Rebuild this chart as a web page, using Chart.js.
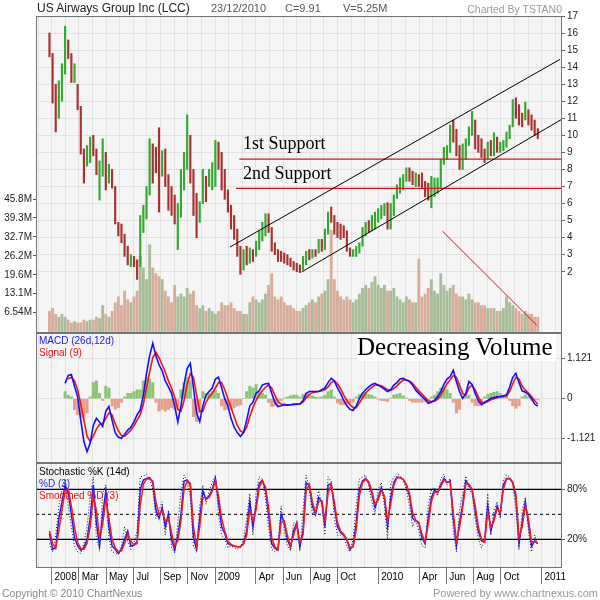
<!DOCTYPE html>
<html>
<head>
<meta charset="UTF-8">
<script src="https://cdn.jsdelivr.net/npm/chart.js"></script>
<title>US Airways Group Inc (LCC)</title>
<style>
  body { margin: 0; background: #fff; font-family: "Liberation Sans", Arial, Helvetica, sans-serif; }
  #wrap { position: relative; width: 600px; height: 600px; overflow: hidden; }
  canvas { position: absolute; left: 0; }
  .t { position: absolute; white-space: nowrap; line-height: 1; }
  .serif { font-family: "Liberation Serif", "Times New Roman", serif; color: #000; }
</style>
</head>
<body>
<div id="wrap">
  <canvas id="price" width="600" height="333" style="top:8px"></canvas>
  <canvas id="macd" width="600" height="146" style="top:325px"></canvas>
  <canvas id="stoch" width="600" height="137" style="top:455px"></canvas>

  <div class="t" style="left:37px;top:2px;font-size:12px;color:#222">US Airways Group Inc (LCC)</div>
  <div class="t" style="left:211px;top:3px;font-size:11px;color:#555">23/12/2010</div>
  <div class="t" style="left:285px;top:3px;font-size:11px;color:#555">C=9.91</div>
  <div class="t" style="left:343px;top:3px;font-size:11px;color:#555">V=5.25M</div>
  <div class="t" style="right:38px;top:3.5px;font-size:10.5px;color:#999">Charted By TSTAN0</div>

  <div class="t serif" style="left:243px;top:134px;font-size:18px">1st Support</div>
  <div class="t serif" style="left:243px;top:163.5px;font-size:18px">2nd Support</div>

  <div style="position:absolute;left:357px;top:334px;width:199px;height:27px;background:#fff"></div>
  <div class="t serif" style="left:357px;top:334px;font-size:25px">Decreasing Volume</div>

  <div class="t" style="left:39px;top:336px;font-size:10px;color:#2020ee">MACD (26d,12d)</div>
  <div class="t" style="left:39px;top:347.8px;font-size:10px;color:#ee1111">Signal (9)</div>

  <div class="t" style="left:39px;top:467.4px;font-size:10px;color:#000">Stochastic %K (14d)</div>
  <div class="t" style="left:39px;top:479px;font-size:10px;color:#2020ee">%D (3)</div>
  <div class="t" style="left:39px;top:490.6px;font-size:10px;color:#ee1111">Smoothed %D (3)</div>

  <div class="t" style="left:2px;top:588px;font-size:10.5px;color:#888">Copyright © 2010 ChartNexus</div>
  <div class="t" style="right:2px;top:587.5px;font-size:11px;color:#999">Powered by www.chartnexus.com</div>
</div>
<script>
// weekly bars, first week ending 27/12/2007, last 23/12/2010
const lows = [
  14.6,11.9,10.2,11.0,12.0,13.6,14.5,13.1,13.1,11.5,
  8.9,7.2,8.2,8.4,8.8,7.7,6.2,7.6,6.8,7.2,
  6.9,4.8,4.1,3.7,2.9,2.4,2.3,2.3,1.55,2.3,
  4.3,5.1,6.5,7.2,7.8,5.5,7.6,7.0,5.6,5.3,
  4.8,3.3,5.2,6.8,8.0,7.2,5.3,4.0,4.9,6.0,
  6.1,7.0,6.8,7.0,8.0,6.8,6.25,5.5,4.5,3.9,
  2.9,1.85,2.1,2.4,2.5,2.6,2.9,3.3,3.8,4.1,
  4.3,3.2,3.0,2.6,2.6,2.5,2.4,2.3,2.1,2.0,
  1.95,2.1,2.4,2.7,2.8,2.9,3.1,3.2,3.3,4.2,
  4.9,4.2,4.0,3.9,4.0,3.2,2.9,2.9,2.9,3.1,
  3.5,4.1,4.3,4.4,4.5,4.9,5.1,5.3,4.5,4.5,
  5.3,6.3,6.6,6.8,7.3,7.3,7.1,7.0,7.0,6.9,
  6.4,6.2,5.75,6.4,6.6,6.9,8.3,8.6,9.0,9.6,
  8.8,8.0,8.0,8.6,9.4,10.0,9.2,9.0,8.7,8.4,
  8.6,8.8,8.8,9.0,9.0,9.1,9.3,9.8,10.5,11.0,
  10.6,10.5,10.9,10.6,10.3,10.0,9.8
];
const highs = [
  16.0,14.8,13.0,13.2,14.2,16.4,15.6,14.8,14.2,13.0,
  11.7,9.2,9.4,9.9,10.0,9.2,8.5,9.8,9.0,8.3,
  8.0,7.0,4.9,4.8,4.2,3.5,3.0,2.9,2.7,5.3,
  5.9,7.0,9.8,9.5,9.3,10.45,9.1,9.2,7.7,7.0,
  6.5,6.0,8.0,9.0,11.2,10.0,8.0,6.6,6.1,8.0,
  7.6,8.0,8.4,9.7,9.6,9.0,8.0,6.8,5.9,5.3,
  4.5,3.5,3.3,3.5,3.4,3.3,3.8,4.4,4.9,5.4,
  5.4,4.6,3.7,3.3,3.2,3.1,3.0,2.8,2.6,2.5,
  2.4,2.9,3.2,3.3,3.3,3.3,3.9,3.9,4.5,5.5,
  5.8,5.3,4.9,4.8,4.7,4.4,3.4,3.3,3.5,3.7,
  4.6,4.9,5.0,5.3,5.5,5.7,5.9,6.0,6.05,6.0,
  6.5,7.1,7.5,7.7,8.1,8.1,7.9,7.8,7.7,7.8,
  7.3,7.2,7.6,7.5,7.5,8.6,9.3,9.4,10.6,10.9,
  10.35,9.4,9.5,9.8,10.5,11.4,10.9,10.0,9.8,9.2,
  9.6,9.7,10.15,9.9,9.6,9.7,10.2,10.6,12.1,12.2,
  11.8,11.3,11.95,11.5,11.2,10.9,10.4
];
const closes = [
  15.1,12.3,11.5,12.6,13.8,15.4,14.9,13.6,13.7,11.8,
  9.3,8.6,8.7,9.6,9.4,7.9,8.3,8.9,7.3,7.9,
  7.1,4.9,4.6,4.0,3.2,2.6,2.6,2.5,2.2,4.9,
  5.5,6.8,8.8,8.3,8.0,7.5,8.6,7.6,6.6,5.8,
  5.0,5.5,7.6,8.3,9.5,7.6,5.8,5.2,5.8,7.7,
  6.6,7.6,7.8,9.3,8.6,7.0,6.6,5.7,4.8,4.2,
  3.2,2.3,2.9,2.8,3.1,2.9,3.5,4.2,4.6,4.8,
  4.7,3.6,3.3,2.9,2.8,2.7,2.6,2.5,2.3,2.2,
  2.1,2.7,3.0,2.9,3.1,3.0,3.6,3.4,4.3,5.3,
  5.2,4.6,4.5,4.4,4.3,3.4,3.1,3.1,3.2,3.5,
  4.4,4.6,4.5,5.1,5.2,5.5,5.7,5.8,5.0,5.8,
  6.3,6.9,7.0,7.5,7.9,7.6,7.4,7.5,7.3,7.2,
  6.6,6.4,7.0,7.2,7.3,8.4,9.0,9.3,10.4,10.0,
  9.0,8.5,9.2,9.6,10.3,10.5,9.5,9.4,9.0,8.8,
  9.3,9.1,9.6,9.3,9.3,9.4,10.0,10.5,11.8,11.5,
  10.9,10.8,11.6,10.9,10.6,10.2,9.91
];
// average daily volume, millions
const volumes = [
  7,8,6,5,6,5,4,3,3.5,3,
  3,4,3.5,4,4,5,4.5,9,6,5,
  7,10,12,9,14,11,10,12,14,26,
  22,18,30,22,20,19,18,14,12,10,
  16,12,13,12,15,13,14,9,8,9,
  7,8,7,6,7,10,9,9,10,8,
  7,7,6,6,10,12,11,10,11,13,
  16,20,12,11,12,10,9,9,8,7,
  7,8,9,10,11,10,12,13,14,18,
  35,18,14,12,11,12,11,10,11,13,
  15,16,15,17,19,16,15,16,14,14,
  15,12,11,10,12,11,10,10,25,12,
  13,15,18,14,13,20,16,14,15,16,
  13,12,12,11,13,11,10,10,9,9,
  8,8,8,7,7,8,12,10,9,8,
  7,6,7,6,6,5,5
];
const macdLine = [
  null,null,null,null,null,
  0.43,0.65,0.68,0.35,0.06,-0.6,-1.2,-1.48,-1.25,-0.75,
  -0.55,-0.65,-0.78,-0.35,-0.22,-0.6,-0.95,-1.08,-1.11,-1.0,
  -0.88,-0.8,-0.65,-0.45,-0.32,0.1,0.7,1.2,1.55,1.2,
  0.95,0.78,0.5,0.33,0.15,-0.2,-0.65,-0.2,0.4,0.85,
  0.99,0.3,-0.4,-0.64,-0.2,0.1,0.2,0.3,0.55,0.6,
  0.3,0.0,-0.2,-0.55,-0.8,-0.95,-1.06,-0.95,-0.6,-0.2,
  -0.1,0.15,0.22,0.38,0.42,0.43,0.15,-0.1,-0.22,-0.2,
  -0.17,-0.18,-0.17,-0.16,-0.15,-0.15,-0.05,0.15,0.2,0.2,
  0.2,0.2,0.25,0.3,0.45,0.57,0.5,0.3,0.15,-0.05,
  -0.2,-0.3,-0.33,-0.2,0.0,0.15,0.25,0.33,0.4,0.43,
  0.38,0.33,0.27,0.2,0.25,0.38,0.45,0.55,0.57,0.52,
  0.48,0.38,0.24,0.15,0.06,-0.02,-0.13,-0.1,-0.04,0.05,
  0.2,0.4,0.55,0.62,0.8,0.48,0.2,0.01,0.15,0.48,
  0.4,0.15,-0.05,-0.17,-0.1,-0.05,0.01,0.03,0.05,0.06,
  0.08,0.1,0.33,0.6,0.71,0.45,0.22,0.18,0.12,0.0,
  -0.15,-0.21
];
const signalLine = [
  null,null,null,null,null,null,
  0.55,0.6,0.5,0.25,-0.15,-0.6,-1.05,-1.2,-1.05,-0.85,
  -0.72,-0.7,-0.55,-0.4,-0.45,-0.7,-0.9,-1.03,-1.05,-0.97,
  -0.88,-0.76,-0.6,-0.45,-0.15,0.3,0.75,1.15,1.3,1.15,
  0.95,0.75,0.5,0.3,0.05,-0.3,-0.35,-0.05,0.4,0.7,
  0.6,0.1,-0.35,-0.35,-0.1,0.05,0.15,0.3,0.45,0.45,
  0.25,0.0,-0.25,-0.5,-0.75,-0.9,-0.95,-0.8,-0.5,-0.25,
  -0.05,0.1,0.22,0.32,0.38,0.3,0.1,-0.08,-0.15,-0.16,
  -0.17,-0.17,-0.16,-0.16,-0.15,-0.1,0.02,0.12,0.17,0.19,
  0.2,0.22,0.25,0.33,0.45,0.5,0.42,0.28,0.1,-0.05,
  -0.17,-0.25,-0.25,-0.12,0.02,0.15,0.25,0.32,0.38,0.38,
  0.36,0.31,0.25,0.23,0.28,0.36,0.45,0.52,0.53,0.5,
  0.43,0.32,0.22,0.13,0.04,-0.06,-0.08,-0.07,-0.02,0.1,
  0.25,0.42,0.53,0.65,0.6,0.38,0.15,0.1,0.3,0.38,
  0.25,0.05,-0.1,-0.12,-0.08,-0.03,0.0,0.03,0.05,0.06,
  0.08,0.2,0.42,0.6,0.55,0.35,0.24,0.16,0.06,-0.06,
  -0.15
];
const macdHist = [
  null,null,null,null,null,
  0.2,0.1,0.05,-0.3,-0.45,-0.5,-0.55,-0.4,0.05,0.45,
  0.5,0.15,-0.05,0.35,0.3,-0.2,-0.3,-0.25,-0.1,0.05,
  0.15,0.15,0.2,0.25,0.25,0.5,0.6,0.55,0.45,-0.1,
  -0.35,-0.3,-0.35,-0.3,-0.25,-0.3,-0.3,0.25,0.45,0.6,
  0.5,-0.5,-0.64,-0.4,0.2,0.15,0.15,0.2,0.25,0.15,
  -0.2,-0.32,-0.3,-0.3,-0.25,-0.2,-0.17,0.0,0.2,0.35,
  0.3,0.4,0.2,0.15,0.1,-0.1,-0.22,-0.2,-0.15,-0.05,
  0.02,0.05,0.08,0.1,0.1,0.05,0.12,0.15,0.1,0.08,
  0.05,0.03,0.05,0.1,0.2,0.25,0.05,-0.12,-0.17,-0.17,
  -0.15,-0.12,-0.1,0.05,0.12,0.15,0.18,0.12,0.1,0.05,
  -0.02,-0.05,-0.06,-0.08,0.02,0.1,0.12,0.15,0.08,0.02,
  -0.05,-0.1,-0.1,-0.1,-0.1,-0.08,-0.05,0.05,0.1,0.2,
  0.3,0.33,0.25,0.15,-0.1,-0.4,-0.3,0.05,0.1,0.1,
  -0.1,-0.2,-0.2,-0.15,0.05,0.12,0.15,0.18,0.2,0.15,
  0.1,0.1,-0.05,-0.2,-0.27,-0.2,0.05,0.1,0.05,-0.05,
  -0.05,-0.03
];
const stochK = [
  15,5,25,60,80,92,60,35,12,5,
  3,15,35,70,95,20,8,75,85,20,
  5,4,2,12,35,18,8,15,30,95,
  96,98,92,80,45,55,65,25,55,10,
  4,40,75,97,90,70,12,5,60,85,
  62,78,88,97,50,25,20,10,12,10,
  8,10,20,45,75,25,75,95,92,70,
  35,8,5,8,60,30,12,6,40,35,
  6,55,97,80,50,55,80,60,25,95,
  90,45,25,25,22,12,5,20,60,92,
  95,97,85,65,50,80,88,60,20,85,
  95,99,96,92,80,60,35,45,30,12,
  10,60,80,82,72,92,98,85,93,30,
  5,55,75,96,80,75,45,20,10,20,
  75,25,55,65,45,92,97,95,85,55,
  8,55,70,30,5,25,12
];
const stochD = [
  27,8,10,45,65,85,75,50,22,12,
  7,10,20,45,85,40,12,50,78,35,
  12,8,3,8,20,30,12,13,17,80,
  91,93,94,88,55,45,58,35,50,20,
  7,25,50,90,91,85,22,8,45,78,
  68,72,80,93,65,35,27,15,13,12,
  11,11,15,30,65,35,60,87,91,80,
  50,15,9,7,50,40,20,10,30,40,
  11,30,88,85,60,50,70,65,35,85,
  87,60,35,28,25,19,8,12,40,80,
  90,93,88,75,58,70,82,70,35,70,
  88,95,94,92,85,72,45,42,40,22,
  15,45,70,79,76,85,93,88,90,45,
  12,40,62,90,85,79,55,30,18,17,
  60,30,45,60,50,85,93,93,88,70,
  15,40,65,40,12,18,15
];
const stochSD = [
  30,15,9,30,55,78,80,60,35,16,
  9,8,15,35,70,55,22,38,68,45,
  20,10,5,6,15,26,18,13,15,60,
  86,92,93,90,65,50,54,42,45,28,
  12,18,42,80,90,87,35,12,35,70,
  70,70,78,90,72,45,30,18,14,12,
  11,11,14,25,55,42,55,82,90,83,
  58,22,11,8,40,42,25,12,25,38,
  16,25,78,86,65,52,65,66,42,75,
  86,65,40,30,26,20,10,11,32,72,
  88,92,89,78,62,67,79,72,42,62,
  85,94,94,92,86,75,52,43,40,26,
  17,38,65,77,76,83,91,89,89,52,
  18,35,58,86,86,80,60,35,20,17,
  52,35,42,57,52,80,92,93,89,74,
  22,35,60,45,17,17,16
];

// drawn lines, [month since Jan 2008, price]
const upperChannel = [[13.10, 3.45], [37.35, 14.46]];
const lowerChannel = [[18.37, 1.99], [37.49, 10.95]];
const support1 = [[13.78, 8.61], [37.49, 8.61]];
const support2 = [[13.54, 6.89], [37.49, 6.89]];
const volumeTrend = [[28.70, 4.39], [35.64, -1.14]];

// axes
const priceTicks = [2,3,4,5,6,7,8,9,10,11,12,13,14,15,16,17];
const volTicks = [6.54, 13.08, 19.62, 26.16, 32.7, 39.24, 45.78];
const volTickLabels = ['6.54M','13.1M','19.6M','26.2M','32.7M','39.3M','45.8M'];
const macdTicks = [-1.121, 0, 1.121];
const macdTickLabels = ['-1.121', '0', '1.121'];
const stochTicks = [20, 80];
const stochTickLabels = ['20%', '80%'];
const stochLevels = [80, 50, 20];
const tickMonths = [0,2,4,6,8,10,12,15,17,19,21,24,27,29,31,33,36];
const tickLabels = ['2008','Mar','May','Jul','Sep','Nov','2009','Apr','Jun','Aug','Oct','2010','Apr','Jun','Aug','Oct','2011'];

const FONT = '"Liberation Sans", Arial, Helvetica, sans-serif';
const GRID = '#e2e2e2';
const UP = 'rgb(52,168,48)', DOWN = 'rgb(168,50,50)';
const VOL_UP = 'rgb(168,188,152)', VOL_DOWN = 'rgb(216,172,154)';
const HIST_UP = 'rgb(140,196,116)', HIST_DOWN = 'rgb(228,158,138)';
const xMin = -1.153, xMax = 37.49;

const DAY = 86400000;
const firstWeek = Date.UTC(2007, 11, 27);
const jan2008 = Date.UTC(2008, 0, 1);
const weekX = closes.map((c, i) => (firstWeek + i * 7 * DAY - jan2008) / (DAY * 365.25 / 12));
const gridMonths = [];
for (let m = -1; m <= 37; m++) gridMonths.push(m);

function isUp(i) { return i > 0 && closes[i] >= closes[i - 1]; }
function series(arr) { return weekX.map((x, i) => ({ x: x, y: arr[i] })); }
function seg(pts) { return pts.map(p => ({ x: p[0], y: p[1] })); }

const frame = {
  id: 'frame',
  beforeDraw(chart) {
    const a = chart.chartArea, c = chart.ctx;
    c.save();
    c.fillStyle = '#f5f5f5';
    c.fillRect(a.left, a.top, a.right - a.left, a.bottom - a.top);
    c.restore();
  },
  afterDraw(chart) {
    const a = chart.chartArea, c = chart.ctx;
    c.save();
    c.strokeStyle = '#6e7878';
    c.lineWidth = 1;
    c.strokeRect(a.left + 0.5, a.top + 0.5, a.right - a.left - 1, a.bottom - a.top - 1);
    c.restore();
  }
};

function gridX() {
  return {
    type: 'linear', min: xMin, max: xMax, offset: false,
    afterBuildTicks: s => { s.ticks = gridMonths.map(v => ({ value: v })); },
    afterFit: s => { s.height = 0; },
    ticks: { display: false },
    grid: { color: GRID, drawTicks: false, offset: false },
    border: { display: false }
  };
}

function rightAxis(min, max, ticks, labels, gridOn) {
  return {
    position: 'right', min: min, max: max,
    afterBuildTicks: s => { s.ticks = ticks.map(v => ({ value: v })); },
    afterFit: s => { s.width = 38; },
    ticks: { autoSkip: false, padding: 2, color: '#222', font: { family: FONT, size: 10 },
             callback: (v, i) => labels[i] },
    grid: { color: GRID, drawOnChartArea: gridOn, tickLength: 3, tickColor: '#666' },
    border: { display: false }
  };
}

function baseOptions(padding, scales) {
  return {
    responsive: false, animation: false, events: [],
    layout: { padding: padding, autoPadding: false },
    plugins: { legend: { display: false }, tooltip: { enabled: false } },
    elements: { point: { radius: 0 }, line: { tension: 0 } },
    scales: scales
  };
}

function lineSet(pts, color, width, dash, axis) {
  return { type: 'line', yAxisID: axis || 'y', data: pts, borderColor: color, borderWidth: width,
           borderDash: dash || [], fill: false, pointRadius: 0, order: 1 };
}

// price + volume
new Chart(document.getElementById('price'), {
  type: 'bar',
  data: {
    datasets: [
      { type: 'bar', yAxisID: 'yv', data: series(volumes), grouped: false, order: 5, barThickness: 2.2,
        backgroundColor: c => isUp(c.dataIndex) ? VOL_UP : VOL_DOWN },
      { type: 'bar', yAxisID: 'y', data: weekX.map((x, i) => ({ x: x, y: [lows[i], highs[i]] })),
        grouped: false, order: 4, barThickness: 1.5,
        backgroundColor: c => isUp(c.dataIndex) ? UP : DOWN },
      lineSet(seg(upperChannel), '#000', 1),
      lineSet(seg(lowerChannel), '#000', 1),
      lineSet(seg(support1), '#dd1515', 1.2),
      lineSet(seg(support2), '#dd1515', 1.2),
      lineSet(seg(volumeTrend), '#e01010', 1)
    ]
  },
  options: baseOptions({ top: 8, bottom: 8, left: 0, right: 0 }, {
    x: gridX(),
    y: rightAxis(17 - 317 / 17.05, 17, priceTicks, priceTicks.map(String), true),
    yv: {
      position: 'left', min: -0.48, max: 109,
      afterBuildTicks: s => { s.ticks = volTicks.map(v => ({ value: v })); },
      afterFit: s => { s.width = 36; },
      ticks: { autoSkip: false, padding: 1, color: '#222', font: { family: FONT, size: 10 },
               callback: (v, i) => volTickLabels[i] },
      grid: { drawOnChartArea: false, tickLength: 3, tickColor: '#555' },
      border: { display: false }
    }
  }),
  plugins: [frame]
});

// MACD
new Chart(document.getElementById('macd'), {
  type: 'bar',
  data: {
    datasets: [
      { type: 'bar', data: series(macdHist), grouped: false, order: 5, barThickness: 2.4,
        backgroundColor: c => (macdHist[c.dataIndex] >= 0 ? HIST_UP : HIST_DOWN) },
      Object.assign(lineSet(series(signalLine), '#ff1010', 1.6), { order: 2 }),
      Object.assign(lineSet(series(macdLine), '#1010ff', 1.6), { order: 1 })
    ]
  },
  options: baseOptions({ top: 8, bottom: 8, left: 36, right: 0 }, {
    x: gridX(),
    y: rightAxis(-1.802, 1.841, macdTicks, macdTickLabels, true)
  }),
  plugins: [frame]
});

// Stochastic
new Chart(document.getElementById('stoch'), {
  type: 'line',
  data: {
    datasets: stochLevels.map(v => Object.assign(
        lineSet(seg([[xMin, v], [xMax, v]]), '#000', v === 50 ? 1 : 1.3, v === 50 ? [3, 3] : []), { order: 4 }))
      .concat([
        Object.assign(lineSet(series(stochK), '#111', 1, [1, 2]), { order: 3 }),
        Object.assign(lineSet(series(stochD), '#1a1aff', 1.5), { order: 2 }),
        Object.assign(lineSet(series(stochSD), '#ff1a1a', 1.5), { order: 1 })
      ])
  },
  options: baseOptions({ top: 8, bottom: 0, left: 36, right: 0 }, {
    x: gridX(),
    x2: {
      type: 'linear', position: 'bottom', min: xMin, max: xMax, offset: false,
      afterBuildTicks: s => { s.ticks = tickMonths.map(v => ({ value: v })); },
      afterFit: s => { s.height = 24; },
      ticks: { autoSkip: false, maxRotation: 0, align: 'start', padding: -13, color: '#000',
               font: { family: FONT, size: 10 }, callback: (v, i) => ' ' + tickLabels[i] },
      grid: { drawOnChartArea: false, tickLength: 16, tickColor: '#777', offset: false },
      border: { display: false }
    },
    y: rightAxis(-14.44, 111.56, stochTicks, stochTickLabels, false)
  }),
  plugins: [frame]
});
</script>
</body>
</html>
